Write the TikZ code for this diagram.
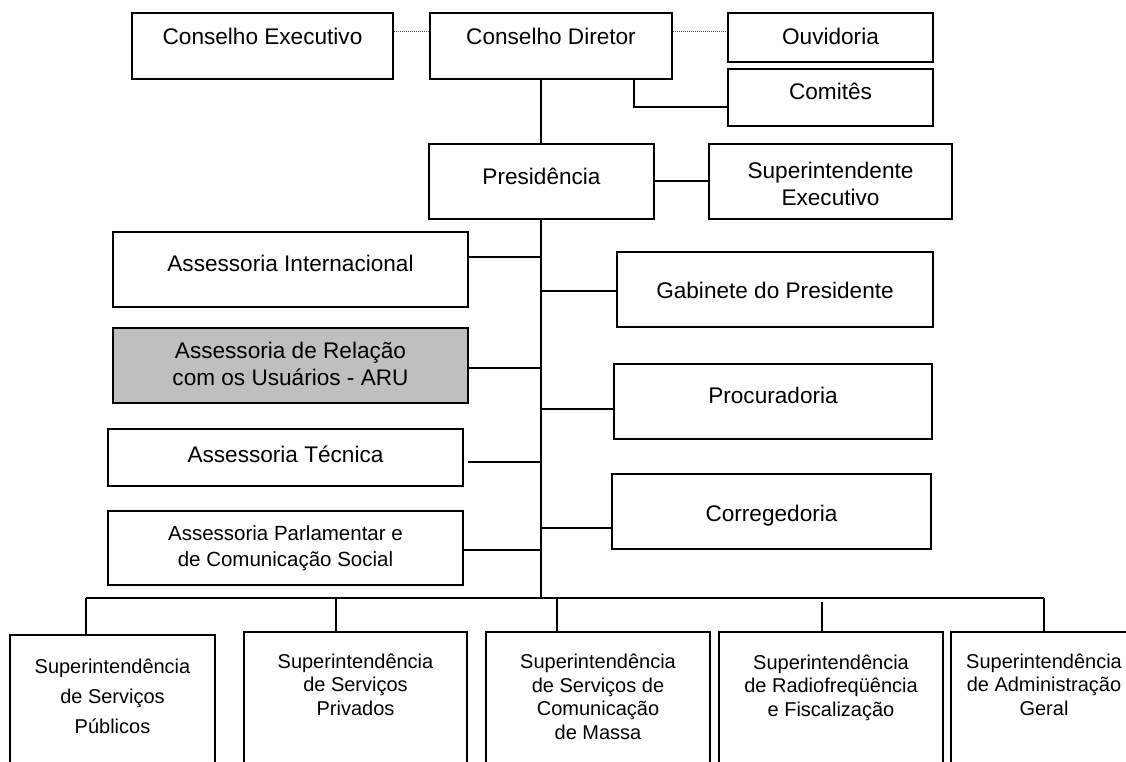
\documentclass[tikz,border=0pt]{standalone}
\usepackage{fontspec}
\setmainfont{Liberation Sans}
\usetikzlibrary{fit}
\begin{document}
\begin{tikzpicture}[x=1pt,y=-1pt,
  orgbox/.style={draw=black,line width=2.1pt,fill=white,inner sep=0pt},
  shaded/.style={fill=black!25},
  conn/.style={draw=black,line width=2pt},
  dotconn/.style={draw=black!70,line width=1pt,dash pattern=on 1pt off 1pt},
  big/.style={anchor=base,align=center,inner sep=0pt,font=\fontsize{22.6}{26.7}\selectfont},
  mid/.style={anchor=base,align=center,inner sep=0pt,font=\fontsize{20.5}{25.7}\selectfont},
  small/.style={anchor=base,align=center,inner sep=0pt,font=\fontsize{20}{23.5}\selectfont},
  smallwide/.style={small,font=\fontsize{20}{30}\selectfont}]
% box spanning two corner points; the anchor "base" of a label is its last line
\newcommand\mkbox[6][]{\node[orgbox,#1,fit={(#3,#4) (#5,#6)}] (#2) {};}
\useasboundingbox (0,0) rectangle (1126,762);
\clip (0,0) rectangle (1126,762);

% top row
\mkbox{ce}{132}{13}{393}{79}
\mkbox{cd}{430}{13}{672}{79}
\mkbox{ouv}{728}{13}{933}{62}
\mkbox{com}{728}{69}{933}{126}
\node[big] (ce-t) at (262.5,45) {Conselho Executivo};
\node[big] (cd-t) at (551,45) {Conselho Diretor};
\node[big] (ouv-t) at (830.5,45) {Ouvidoria};
\node[big] (com-t) at (830.5,100) {Comitês};

% presidency level
\mkbox{pres}{429}{144}{654}{219}
\mkbox{se}{709}{144}{952}{219}
\node[big] (pres-t) at (541.5,185) {Presidência};
\node[big] (se-t) at (830.5,205) {Superintendente\\Executivo};

% advisory units, left
\mkbox{ai}{113}{232}{468}{307}
\mkbox[shaded]{aru}{113}{328}{468}{403}
\mkbox{tec}{108}{429}{463}{486}
\mkbox{par}{108}{511}{463}{585}
\node[big] (ai-t) at (290.5,271.5) {Assessoria Internacional};
\node[big] (aru-t) at (290.5,385) {Assessoria de Relação\\com os Usuários - ARU};
\node[big] (tec-t) at (285.5,462) {Assessoria Técnica};
\node[mid] (par-t) at (285.5,566) {Assessoria Parlamentar e\\de Comunicação Social};

% units, right
\mkbox{gab}{617}{252}{933}{327}
\mkbox{proc}{614}{364}{932}{439}
\mkbox{cor}{612}{474}{931}{549}
\node[big] (gab-t) at (775,298) {Gabinete do Presidente};
\node[big] (proc-t) at (773,403) {Procuradoria};
\node[big] (cor-t) at (771.5,521.5) {Corregedoria};

% superintendencies
\mkbox{b1}{10}{635}{215}{800}
\mkbox{b2}{244}{632}{467}{800}
\mkbox{b3}{486}{632}{710}{800}
\mkbox{b4}{719}{632}{943}{800}
\mkbox{b5}{951}{632}{1137}{800}
\node[smallwide] (b1-t) at (112.5,733) {Superintendência\\de Serviços\\Públicos};
\node[small] (b2-t) at (355.5,715) {Superintendência\\de Serviços\\Privados};
\node[small] (b3-t) at (598,739) {Superintendência\\de Serviços de\\Comunicação\\de Massa};
\node[small] (b4-t) at (831,716) {Superintendência\\de Radiofreqüência\\e Fiscalização};
\node[small] (b5-t) at (1044,715) {Superintendência\\de Administração\\Geral};

% spine and bus
\coordinate (spine) at (541,0);
\coordinate (busL) at (86,598);
\coordinate (busR) at (1044,598);

% dotted links
\draw[dotconn] ([yshift=14pt]ce.east) -- ([yshift=14pt]ce.east -| cd.west);
\draw[dotconn] ([yshift=14pt]cd.east) -- ([yshift=14pt]cd.east -| ouv.west);

% solid links
\draw[conn] ([xshift=83pt]cd.south) |- ([yshift=-9.5pt]com.west);
\draw[conn] (cd.south -| spine) -- (pres.north -| spine);
\draw[conn] (pres.east) -- (se.west);
\draw[conn] (pres.south -| spine) -- (spine |- busL);
\draw[conn] ([yshift=12.5pt]ai.east) -- ([yshift=12.5pt]ai.east -| spine);
\draw[conn] ([yshift=-1.2pt]gab.west) -- ([yshift=-1.2pt]gab.west -| spine);
\draw[conn] ([yshift=-2.5pt]aru.east) -- ([yshift=-2.5pt]aru.east -| spine);
\draw[conn] ([yshift=-7.5pt]proc.west) -- ([yshift=-7.5pt]proc.west -| spine);
\draw[conn] ([xshift=4pt,yshift=-4.5pt]tec.east) -- ([yshift=-4.5pt]tec.east -| spine);
\draw[conn] ([yshift=-16.5pt]cor.west) -- ([yshift=-16.5pt]cor.west -| spine);
\draw[conn] ([yshift=-2pt]par.east) -- ([yshift=-2pt]par.east -| spine);
\draw[conn] (busL) -- (busR);
\draw[conn] ([xshift=-26.5pt]b1.north) -- ([xshift=-26.5pt]b1.north |- busL);
\draw[conn] ([xshift=-19.5pt]b2.north) -- ([xshift=-19.5pt]b2.north |- busL);
\draw[conn] ([xshift=-41pt]b3.north) -- ([xshift=-41pt]b3.north |- busL);
\draw[conn] ([xshift=-9pt]b4.north) -- ([xshift=-9pt,yshift=-4pt]b4.north |- busL);
\draw[conn] (b5.north) -- (b5.north |- busL);
\end{tikzpicture}
\end{document}
